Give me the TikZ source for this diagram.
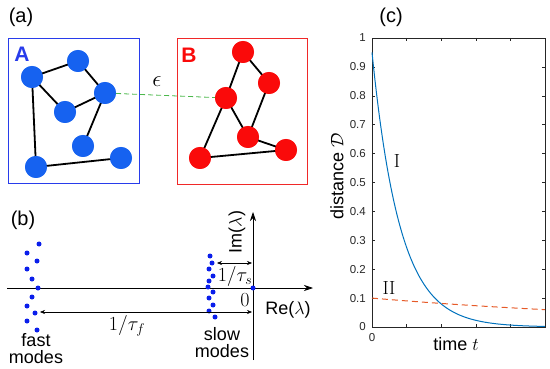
\documentclass[tikz,border=0pt]{standalone}
\usepackage{fix-cm}
\usepackage{amsmath,amssymb}
\usepackage[no-math]{fontspec}
\setmainfont{Liberation Sans}
\usepackage{tikz}
\usetikzlibrary{arrows.meta,positioning,calc}

\definecolor{Ablue}{RGB}{22,98,240}
\definecolor{Aframe}{RGB}{40,60,235}
\definecolor{Bred}{RGB}{250,10,10}
\definecolor{Bframe}{RGB}{240,40,40}
\definecolor{modeblue}{RGB}{10,30,235}
\definecolor{mlblue}{RGB}{0,114,189}
\definecolor{mlred}{RGB}{230,90,40}
\definecolor{tickgray}{RGB}{40,40,40}
\newcommand{\bigfont}{\fontsize{18}{18}\selectfont}
\newcommand{\mathfont}{\fontsize{20}{20}\selectfont}
\newcommand{\tickfont}{\fontsize{11.5}{13}\selectfont}

\tikzset{
    vtxA/.style={circle, fill=Ablue, minimum size=22pt, inner sep=0pt},
    vtxB/.style={circle, fill=Bred, minimum size=22pt, inner sep=0pt},
    link/.style={line width=1.8pt, black},
    mode/.style={circle, fill=modeblue, minimum size=5pt, inner sep=0pt},
    gap/.style={{Stealth[length=5pt,width=4pt]}-{Stealth[length=5pt,width=4pt]}, line width=0.5pt},
    lbl/.style={font=\bigfont},
    mlbl/.style={font=\mathfont}
}

\begin{document}
\begin{tikzpicture}[x=1pt, y=-1pt]
\useasboundingbox (0,0) rectangle (550,369);

% ---------- (a) two networks ----------
\node[font=\fontsize{20}{20}\selectfont] (la) at (21,17) {(a)};
\draw[Aframe, line width=0.9pt] (8,38) rectangle (139,183);
\draw[Bframe, line width=0.9pt] (177,38) rectangle (307,184);
\node[font=\fontsize{21}{21}\selectfont\bfseries, text=Aframe] (nameA) at (22,54) {A};
\node[font=\fontsize{21}{21}\selectfont\bfseries, text=Bred] (nameB) at (189,55) {B};

% network A
\node[vtxA] (a1) at (32,77)  {};
\node[vtxA] (a2) at (78,61)  {};
\node[vtxA] (a3) at (105,93) {};
\node[vtxA] (a4) at (65,112) {};
\node[vtxA] (a5) at (83,146) {};
\node[vtxA] (a6) at (36,167) {};
\node[vtxA] (a7) at (121,158) {};
\draw[link] (a1.center) -- (a2.center) -- (a3.center) -- (a4.center) -- (a1.center) -- (a6.center) -- (a7.center);
\draw[link] (a3.center) -- (a5.center);

% network B
\node[vtxB] (b1) at (243,52)  {};
\node[vtxB] (b2) at (269,83)  {};
\node[vtxB] (b3) at (226,98)  {};
\node[vtxB] (b4) at (248,137) {};
\node[vtxB] (b5) at (286,150) {};
\node[vtxB] (b6) at (200,158) {};
\draw[link] (b3.center) -- (b1.center) -- (b2.center) -- (b4.center) -- (b3.center) -- (b6.center) -- (b5.center) -- (b4.center);

% redraw discs on top of the links
\foreach \n in {a1,a2,a3,a4,a5,a6,a7} \fill[Ablue] (\n) circle (11);
\foreach \n in {b1,b2,b3,b4,b5,b6} \fill[Bred] (\n) circle (11);

% coupling
\draw[green!60!black!70, dash pattern=on 5pt off 3pt, line width=0.8pt] (a3) -- (b3);
\node[font=\fontsize{23}{23}\selectfont] (eps) at (157,82) {$\epsilon$};

% ---------- (b) spectrum ----------
\node[font=\fontsize{20}{20}\selectfont] (lb) at (23,220) {(b)};
\coordinate (reL) at (7,288);
\coordinate (reR) at (313,288);
\coordinate (imB) at (253,360);
\coordinate (imT) at (253,212);
\draw[-{Stealth[length=9pt,width=6pt]}, line width=0.7pt] (reL) -- (reR);
\draw[-{Stealth[length=9pt,width=6pt]}, line width=0.7pt] (imB) -- (imT);
\node[lbl, rotate=90] (imlab) at (237,232) {Im($\lambda$)};
\node[lbl] (relab) at (288,310) {Re($\lambda$)};
\node[mlbl] (zero) at (245,300) {$0$};
\node[mode] (origin) at (253,288) {};

% fast and slow modes
\foreach \x/\y in {39/244,27/253,37/261,27/269,32/279,38/288,32/297,27/306,35/313,27/321,37/330}
    \fill[modeblue] (\x,\y) circle (2.5);
\foreach \x/\y in {210/256,212/263,209/269,213/276,209/281,208/287,213/292,209/298,213/305,209/311,215/317}
    \fill[modeblue] (\x,\y) circle (2.5);

\coordinate (ts1) at (217,263);
\coordinate (ts2) at (252,263);
\coordinate (tf1) at (40,312);
\coordinate (tf2) at (252,312);
\draw[gap] (ts1) -- (ts2);
\draw[gap] (tf1) -- (tf2);
\node[mlbl] (taus) at (235,276) {$1/\tau_s$};
\node[mlbl] (tauf) at (127,326) {$1/\tau_f$};
\node[lbl, align=center, inner sep=0pt] (fast) at (36,349) {fast\\[-1pt]modes};
\node[lbl, align=center, inner sep=0pt] (slow) at (222,343) {slow\\[-1pt]modes};

% ---------- (c) distance vs time ----------
\node[font=\fontsize{20}{20}\selectfont] (lc) at (391,17) {(c)};
\draw[line width=0.5pt, black!85] (372,38) rectangle (545,327);
% ticks
\foreach \k in {0,...,10} {
    \draw[line width=0.4pt, black!85] (372,{327-28.9*\k}) -- ++(3,0);
    \draw[line width=0.4pt, black!85] (545,{327-28.9*\k}) -- ++(-3,0);
}
\foreach \k in {1,...,4} {
    \draw[line width=0.4pt, black!85] ({372+34.6*\k},327) -- ++(0,-3);
    \draw[line width=0.4pt, black!85] ({372+34.6*\k},38) -- ++(0,3);
}
\foreach \v [count=\k from 0] in {0,0.1,0.2,0.3,0.4,0.5,0.6,0.7,0.8,0.9,1}
    \node[font=\tickfont, text=tickgray, anchor=east, inner sep=1pt] at (367,{327-28.9*\k}) {\v};
\node[font=\tickfont, text=tickgray] (t0) at (372,338) {0};
\node[lbl] (tlab) at (456,344) {time $t$};
\node[lbl, rotate=90] (dlab) at (337,176) {distance $\mathcal{D}$};

% curves
\draw[mlblue, line width=1pt] plot[domain=0:1, samples=120] ({372+173*\x},{327-289*0.95*exp(-6.19*\x)});
\draw[mlred, line width=1pt, dash pattern=on 6pt off 4pt] plot[domain=0:1, samples=40] ({372+173*\x},{327-289*0.1*exp(-0.51*\x)});
\node[font=\fontsize{19}{19}\selectfont] (c1) at (397,161) {$\mathrm{I}$};
\node[font=\fontsize{19}{19}\selectfont] (c2) at (389,288) {$\mathrm{II}$};

\end{tikzpicture}
\end{document}
